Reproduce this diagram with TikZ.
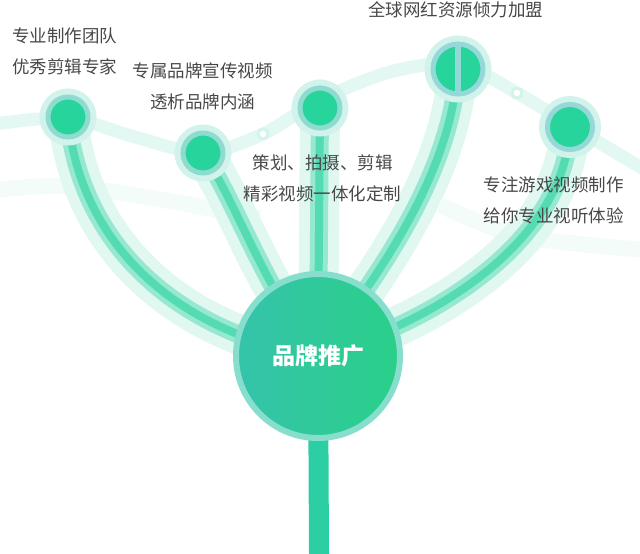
\documentclass[tikz,border=0pt]{standalone}
\usepackage{fontspec}
\newfontfamily\cjk{Noto Sans CJK SC}
\usepackage{tikz}
\usetikzlibrary{positioning}
\usetikzlibrary{calc}
\usetikzlibrary{backgrounds}

\definecolor{dotgreen}{HTML}{26D49C}
\definecolor{ringc}{HTML}{8EDBCF}
\definecolor{ringb}{HTML}{95D8D8}
\definecolor{haloc}{HTML}{D2F2EC}
\definecolor{coreg}{HTML}{55DBB2}
\definecolor{midg}{HTML}{96E8D0}
\definecolor{lightg}{HTML}{E1F8F1}
\definecolor{wavec}{HTML}{E3F8F2}
\definecolor{faintc}{HTML}{F4FCFA}
\definecolor{beadc}{HTML}{D3F4EA}
\definecolor{stemc}{HTML}{2CCFA3}
\definecolor{hubA}{HTML}{35C3AB}
\definecolor{hubB}{HTML}{2AD089}
\definecolor{hubedge}{HTML}{88DECC}
\definecolor{textc}{HTML}{474747}

\begin{document}
\begin{tikzpicture} [
    x=1pt, y=-1pt,                 % one unit per pixel, y pointing down
    ]
% -------------------------------------------------
\tikzset{
  base/.style={circle, inner sep=0pt, outer sep=0pt},
  dot/.style={base, fill=dotgreen, draw=ringc, line width=5pt, minimum size=#1,
     preaction={draw=haloc, line width=17pt}},
  bead/.style={base, fill=white, draw=beadc, line width=3pt, minimum size=10pt},
  hub/.style={base, minimum size=164pt, left color=hubA, right color=hubB,
     draw=hubedge, line width=6pt, text=white,
     font=\cjk\bfseries\fontsize{23}{23}\selectfont},
  lbl/.style={align=center, inner sep=0pt, text=textc,
     font=\cjk\fontsize{17.5}{31}\selectfont},
  branch/.style={draw=coreg, line width=8pt,
     preaction={draw=lightg, line width=40pt},
     preaction={draw=midg, line width=18pt}},
  wave/.style={draw=wavec, line width=13pt},
  faint/.style={draw=faintc, line width=16pt},
  stem/.style={draw=stemc, line width=20pt},
  split/.style={draw=ringb, line width=6pt},
}
    \useasboundingbox (0,0) rectangle (640,554);

    \node [hub] (hub) at (318,356) {品牌推广};

    \node [dot=40pt] (n1) at (68,117) {};
    \node [dot=40pt] (n2) at (203,153) {};
    \node [dot=40pt] (n3) at (320,108) {};
    \node [dot=50pt, draw=ringb] (n4) at (458,69) {};
    \node [dot=45pt, draw=ringb] (n5) at (570,127) {};
    \draw [split] (n4.north) -- (n4.south);

    \node [bead] (b1) at (263,134) {};
    \node [bead] (b2) at (517,93) {};

    \node [lbl, anchor=west, align=left] (t1) at (12,51.5) {专业制作团队\\优秀剪辑专家};
    \node [lbl] (t2) at (202.5,86.5) {专属品牌宣传视频\\透析品牌内涵};
    \node [lbl] (t3) at (322.5,178) {策划、拍摄、剪辑\\精彩视频一体化定制};
    \node [lbl] (t4) at (455.5,10) {全球网红资源倾力加盟};
    \node [lbl] (t5) at (553.5,200) {专注游戏视频制作\\给你专业视听体验};

    \coordinate (root) at (319,554);

    \begin{pgfonlayer}{background}
    % faint arcs and the wave behind everything
    \path [faint] plot [smooth] coordinates {(-5,190) (60,186) (140,196) (260,218)};
    \path [faint] plot [smooth] coordinates {(440,205) (520,236) (645,250)};
    \path [wave] plot [smooth] coordinates {(-5,124) (68,118) (135,137) (203,153)
        (263,134) (320,100) (390,72) (458,64) (517,93) (570,125) (645,170)};

    \path [stem] (hub.center) -- (root);

    \path [branch] (n1.center) .. controls (80,250) and (185,335) .. (hub.center);
    \path [branch] (n2.center) .. controls (235,200) and (265,290) .. (hub.center);
    \path [branch] (n3.center) -- (hub.center);
    \path [branch] (n4.center) .. controls (450,170) and (390,260) .. (hub.center);
    \path [branch] (n5.center) .. controls (565,240) and (440,320) .. (hub.center);
    \end{pgfonlayer}

\end{tikzpicture}
\end{document}
